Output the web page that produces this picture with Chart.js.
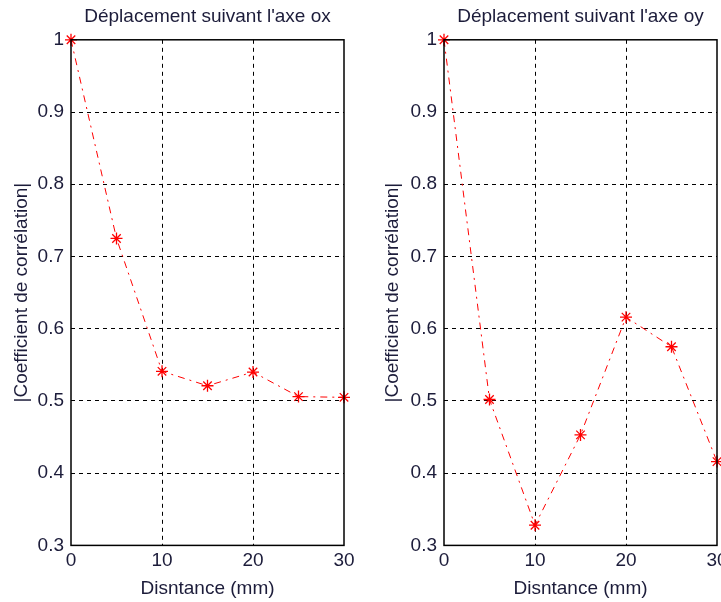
<!DOCTYPE html>
<html>
<head>
<meta charset="utf-8">
<script src="https://cdn.jsdelivr.net/npm/chart.js@4/dist/chart.umd.min.js"></script>
<style>
html,body{margin:0;padding:0;background:#fff;overflow:hidden;width:721px;height:602px;}
.box{position:absolute;top:0;height:602px;}
</style>
</head>
<body>
<div class="box" style="left:0;width:360px"><canvas id="c1"></canvas></div>
<div class="box" style="left:360px;width:372px"><canvas id="c2"></canvas></div>
<script>
const distances = [0, 5, 10, 15, 20, 25, 30];
const corrOx = [1.0, 0.725, 0.541, 0.521, 0.540, 0.506, 0.505];
const corrOy = [1.0, 0.502, 0.328, 0.453, 0.616, 0.575, 0.416];
const xTicks = [0, 10, 20, 30];
const yTicks = [0.3, 0.4, 0.5, 0.6, 0.7, 0.8, 0.9, 1];
const titles = ["Déplacement suivant l'axe ox", "Déplacement suivant l'axe oy"];
const xTitle = "Disntance (mm)";
const yTitle = "|Coefficient de corrélation|";

const textColor = '#1c1c3a';
const font = {family: '"Liberation Sans", Arial, sans-serif', size: 19};

const frame = {
  id: 'frame',
  afterDatasetsDraw(chart) {
    const a = chart.chartArea, c = chart.ctx;
    c.save();
    c.strokeStyle = '#000';
    c.lineWidth = 1.5;
    c.setLineDash([]);
    c.strokeRect(a.left, a.top, a.right - a.left, a.bottom - a.top);
    c.restore();
  }
};

function gridColor(ctx, lo, hi) {
  const v = ctx.tick ? ctx.tick.value : null;
  if (v === null) return 'rgba(0,0,0,0)';
  if (Math.abs(v - lo) < 1e-6 || Math.abs(v - hi) < 1e-6) return 'rgba(0,0,0,0)';
  return '#000';
}

function makeChart(id, values, title, yWidth, padRight, yTitlePad) {
  new Chart(document.getElementById(id), {
    type: 'line',
    data: {
      datasets: [{
        data: distances.map((d, i) => ({x: d, y: values[i]})),
        borderColor: '#ff0000',
        backgroundColor: '#ff0000',
        borderWidth: 1,
        borderDash: [7, 5, 2, 5],
        pointStyle: 'star',
        pointRadius: 6,
        pointBorderWidth: 1.3,
        pointBorderColor: '#ff0000',
        tension: 0,
        clip: false
      }]
    },
    options: {
      responsive: true,
      maintainAspectRatio: false,
      animation: false,
      layout: {padding: {top: 0, right: padRight, bottom: 2, left: 0}},
      plugins: {
        legend: {display: false},
        tooltip: {enabled: false},
        title: {
          display: true, text: title, color: textColor, fullSize: false,
          font: {family: font.family, size: 19, weight: 'normal'},
          padding: {top: 5, bottom: 12}
        }
      },
      scales: {
        x: {
          type: 'linear', min: 0, max: 30,
          afterBuildTicks: s => { s.ticks = xTicks.map(v => ({value: v})); },
          ticks: {color: textColor, font: font, padding: 4, maxRotation: 0,
                  callback: v => String(v)},
          grid: {color: c => gridColor(c, 0, 30), lineWidth: 1, drawTicks: false},
          border: {display: false, dash: [4, 4]},
          title: {display: true, text: xTitle, color: textColor, font: font, padding: {top: 1, bottom: 0}}
        },
        y: {
          type: 'linear', min: 0.3, max: 1,
          afterBuildTicks: s => { s.ticks = yTicks.map(v => ({value: v})); },
          afterFit: s => { s.width = yWidth; },
          ticks: {color: textColor, font: font, padding: 7,
                  callback: v => String(Math.round(v * 10) / 10)},
          grid: {color: c => gridColor(c, 0.3, 1), lineWidth: 1, drawTicks: false},
          border: {display: false, dash: [4, 4]},
          title: {display: true, text: yTitle, color: textColor, font: font, padding: {top: yTitlePad, bottom: 0}}
        }
      }
    },
    plugins: [frame]
  });
}

makeChart('c1', corrOx, titles[0], 71, 16, 10);
makeChart('c2', corrOy, titles[1], 84, 15, 21);
</script>
</body>
</html>
